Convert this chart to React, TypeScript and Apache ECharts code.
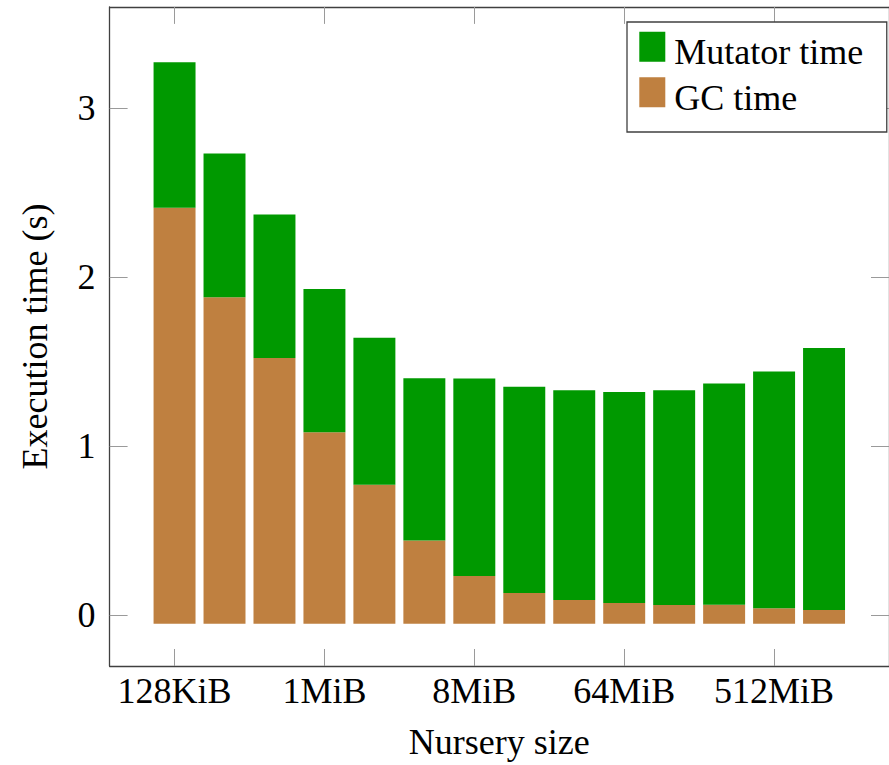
import React, { useEffect, useRef } from "react";
import * as echarts from "echarts";

const categories = [
  "128KiB", "256KiB", "512KiB", "1MiB", "2MiB", "4MiB", "8MiB",
  "16MiB", "32MiB", "64MiB", "128MiB", "256MiB", "512MiB", "1GiB",
];
const gcTime = [2.412, 1.882, 1.523, 1.083, 0.772, 0.442, 0.232, 0.132, 0.091, 0.073, 0.061, 0.063, 0.041, 0.032];
const mutatorTime = [0.861, 0.85, 0.849, 0.848, 0.87, 0.96, 1.169, 1.22, 1.241, 1.249, 1.271, 1.308, 1.401, 1.55];
const xTickIndices = [0, 3, 6, 9, 12];
const yTicks = [0, 1, 2, 3];
const BAR_BASE = -0.05;
const BAR_FRACTION = 0.84;

const FONT = "Liberation Serif";
const AXIS_COLOR = "#404040";
const TICK_COLOR = "#9a9a9a";
const GREEN = "#009900";
const BROWN = "#bf8040";
// legend swatch 26x30 sitting at the top of a 26x41 icon box, so the label sits a little lower
const LEGEND_ICON = "path://M0,0L26,0L26,30L0,30ZM0,41L0.01,41Z";

function rectRenderer(color: string) {
  return (params: any, api: any) => {
    const x = api.value(0);
    const lo = api.value(1);
    const hi = api.value(2);
    const pTop = api.coord([x, hi]);
    const pBot = api.coord([x, lo]);
    const w = api.size([BAR_FRACTION, 0])[0];
    return {
      type: "rect",
      shape: { x: pTop[0] - w / 2, y: pTop[1], width: w, height: pBot[1] - pTop[1] },
      style: { fill: color },
    };
  };
}

export default function App() {
  const ref = useRef<HTMLDivElement>(null);
  useEffect(() => {
    if (!ref.current) return;
    const chart = echarts.init(ref.current, null, { renderer: "svg" });
    const xBase = {
      type: "value" as const,
      min: -1.3,
      max: 14.3,
      splitLine: { show: false },
      axisLine: { show: true, onZero: false, lineStyle: { color: AXIS_COLOR, width: 1.3 } },
      axisTick: {
        show: true,
        inside: true,
        length: 17,
        customValues: xTickIndices,
        lineStyle: { color: TICK_COLOR, width: 1 },
      },
    };
    const yBase = {
      type: "value" as const,
      min: -0.3,
      max: 3.6,
      splitLine: { show: false },
      axisLine: { show: true, onZero: false, lineStyle: { color: AXIS_COLOR, width: 1.3 } },
      axisTick: {
        show: true,
        inside: true,
        length: 18,
        customValues: yTicks,
        lineStyle: { color: TICK_COLOR, width: 1 },
      },
    };
    const gcData = gcTime.map((v, i) => [i, BAR_BASE, v]);
    const mutData = mutatorTime.map((v, i) => [i, gcTime[i], gcTime[i] + v]);
    chart.setOption({
      animation: false,
      backgroundColor: "#ffffff",
      grid: { left: 109.6, top: 6.9, width: 793, height: 661.7, containLabel: false },
      legend: {
        orient: "vertical",
        left: 627,
        top: 22,
        data: ["Mutator time", "GC time"],
        itemWidth: 26,
        itemHeight: 41,
        itemGap: 4.6,
        padding: [9.7, 23.5, 13.7, 12.3],
        borderColor: AXIS_COLOR,
        borderWidth: 1.3,
        borderRadius: 0,
        backgroundColor: "#ffffff",
        icon: LEGEND_ICON,
        itemStyle: { borderWidth: 0 },
        textStyle: {
          fontFamily: FONT,
          fontSize: 36,
          color: "#000",
          padding: [0, 0, 0, 4],
        },
      },
      xAxis: [
        {
          ...xBase,
          position: "bottom",
          name: "Nursery size",
          nameLocation: "middle",
          nameGap: 58,
          nameTextStyle: { fontFamily: FONT, fontSize: 36, color: "#000" },
          axisLabel: {
            show: true,
            customValues: xTickIndices,
            formatter: (v: number) => categories[Math.round(v)] ?? "",
            margin: 7,
            fontFamily: FONT,
            fontSize: 36,
            color: "#000",
          },
        },
        { ...xBase, position: "top", axisLabel: { show: false } },
      ],
      yAxis: [
        {
          ...yBase,
          position: "left",
          name: "Execution time (s)",
          nameLocation: "middle",
          nameGap: 57,
          nameRotate: 90,
          nameTextStyle: { fontFamily: FONT, fontSize: 36, color: "#000" },
          axisLabel: {
            show: true,
            customValues: yTicks,
            margin: 14,
            fontFamily: FONT,
            fontSize: 36,
            color: "#000",
          },
        },
        { ...yBase, position: "right", axisLabel: { show: false } },
      ],
      series: [
        {
          name: "GC time",
          type: "custom",
          xAxisIndex: 0,
          yAxisIndex: 0,
          itemStyle: { color: BROWN },
          encode: { x: 0, y: [1, 2] },
          renderItem: rectRenderer(BROWN),
          data: gcData,
        },
        {
          name: "Mutator time",
          type: "custom",
          xAxisIndex: 0,
          yAxisIndex: 0,
          itemStyle: { color: GREEN },
          encode: { x: 0, y: [1, 2] },
          renderItem: rectRenderer(GREEN),
          data: mutData,
        },
      ],
    });
    return () => chart.dispose();
  }, []);
  return (
    <div
      ref={ref}
      style={{ position: "fixed", left: 0, top: 0, width: 889, height: 765 }}
    />
  );
}
